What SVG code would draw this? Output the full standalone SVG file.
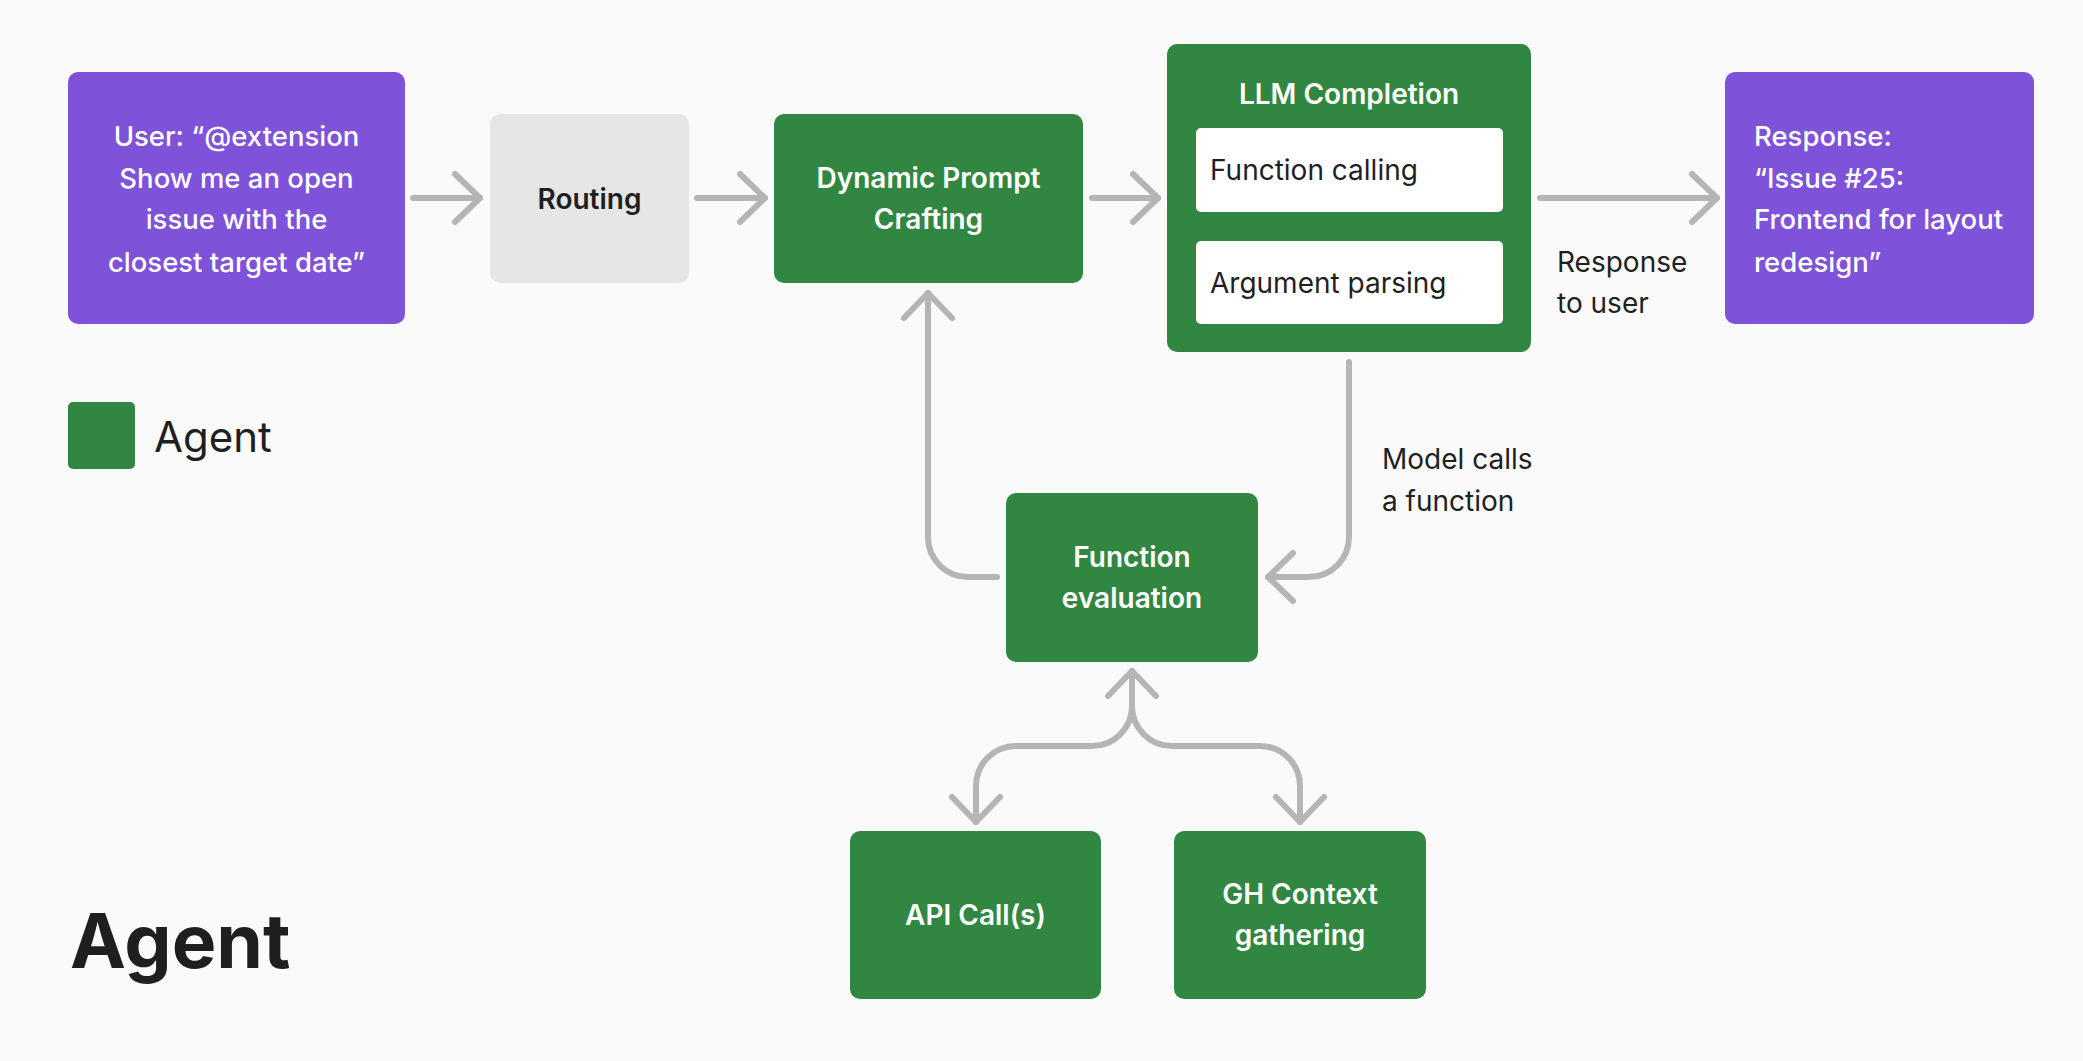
<svg xmlns="http://www.w3.org/2000/svg" width="2083" height="1061" viewBox="0 0 2083 1061">
  <defs>
    <style>
      .bg { fill: #fafafa; }
      .purple { fill: #7e52d9; }
      .green { fill: #318741; }
      .gray { fill: #e6e6e6; }
      .white { fill: #ffffff; }
      text { font-family: Inter, "Liberation Sans", sans-serif; font-size: 28px; }
      .wt { fill: #ffffff; font-weight: 500; font-size: 27.5px; }
      .wb { fill: #ffffff; font-weight: 600; }
      .db { fill: #1f1f1f; font-weight: 600; }
      .dr { fill: #1f1f1f; font-weight: 400; }
      .c { text-anchor: middle; }
      .conn { fill: none; stroke: #b5b5b5; stroke-width: 6; stroke-linecap: round; stroke-linejoin: round; }
    </style>
    <marker id="ah" markerUnits="userSpaceOnUse" markerWidth="64" markerHeight="64" viewBox="-32 -32 64 64" refX="0" refY="0" orient="auto-start-reverse">
      <path d="M-25,-24 L0,0 L-25,24" fill="none" stroke="#b5b5b5" stroke-width="6" stroke-linecap="round" stroke-linejoin="round"/>
    </marker>
  </defs>

  <rect class="bg" x="0" y="0" width="2083" height="1061"/>

  <g id="connectors">
    <path class="conn" d="M413,198 H480" marker-end="url(#ah)"/>
    <path class="conn" d="M697,198 H765" marker-end="url(#ah)"/>
    <path class="conn" d="M1092,198 H1158" marker-end="url(#ah)"/>
    <path class="conn" d="M1540,198 H1717" marker-end="url(#ah)"/>
    <path class="conn" d="M997,577 H968 A40,40 0 0 1 928,537 V293" marker-end="url(#ah)"/>
    <path class="conn" d="M1349,362 V537 A40,40 0 0 1 1309,577 H1268" marker-end="url(#ah)"/>
    <path class="conn" d="M1132,671 V706 A40,40 0 0 1 1092,746 H1016 A40,40 0 0 0 976,786 V822" marker-start="url(#ah)" marker-end="url(#ah)"/>
    <path class="conn" d="M1132,700 V706 A40,40 0 0 0 1172,746 H1260 A40,40 0 0 1 1300,786 V822" marker-end="url(#ah)"/>
  </g>

  <g id="user">
    <rect class="purple" x="68" y="72" width="337" height="252" rx="10"/>
    <text class="wt c" x="236.5" y="146">User: “@extension</text>
    <text class="wt c" x="236.5" y="188">Show me an open</text>
    <text class="wt c" x="236.5" y="229">issue with the</text>
    <text class="wt c" x="236.5" y="272">closest target date”</text>
  </g>

  <g id="routing">
    <rect class="gray" x="490" y="114" width="199" height="169" rx="10"/>
    <text class="db c" x="589.5" y="209">Routing</text>
  </g>

  <g id="dynamic-prompt">
    <rect class="green" x="774" y="114" width="309" height="169" rx="10"/>
    <text class="wb c" x="928.5" y="188">Dynamic Prompt</text>
    <text class="wb c" x="928.5" y="229">Crafting</text>
  </g>

  <g id="llm-completion">
    <rect class="green" x="1167" y="44" width="364" height="308" rx="10"/>
    <text class="wb c" x="1349" y="104">LLM Completion</text>
    <g id="function-calling">
      <rect class="white" x="1196" y="128" width="307" height="84" rx="5"/>
      <text class="dr" x="1210" y="180">Function calling</text>
    </g>
    <g id="argument-parsing">
      <rect class="white" x="1196" y="241" width="307" height="83" rx="5"/>
      <text class="dr" x="1210" y="293">Argument parsing</text>
    </g>
  </g>

  <g id="response-label">
    <text class="dr" x="1557" y="272">Response</text>
    <text class="dr" x="1557" y="313">to user</text>
  </g>

  <g id="response">
    <rect class="purple" x="1725" y="72" width="309" height="252" rx="10"/>
    <text class="wt" x="1754" y="146">Response:</text>
    <text class="wt" x="1754" y="188">“Issue #25:</text>
    <text class="wt" x="1754" y="229">Frontend for layout</text>
    <text class="wt" x="1754" y="272">redesign”</text>
  </g>

  <g id="model-calls-label">
    <text class="dr" x="1382" y="469">Model calls</text>
    <text class="dr" x="1382" y="511">a function</text>
  </g>

  <g id="function-evaluation">
    <rect class="green" x="1006" y="493" width="252" height="169" rx="10"/>
    <text class="wb c" x="1132" y="567">Function</text>
    <text class="wb c" x="1132" y="608">evaluation</text>
  </g>

  <g id="api-calls">
    <rect class="green" x="850" y="831" width="251" height="168" rx="10"/>
    <text class="wb c" x="975.5" y="925">API Call(s)</text>
  </g>

  <g id="gh-context">
    <rect class="green" x="1174" y="831" width="252" height="168" rx="10"/>
    <text class="wb c" x="1300" y="904">GH Context</text>
    <text class="wb c" x="1300" y="945">gathering</text>
  </g>

  <g id="legend">
    <rect class="green" x="68" y="402" width="67" height="67" rx="5"/>
    <text class="dr" x="154" y="452" style="font-size:42px">Agent</text>
  </g>

  <g id="title">
    <text x="70" y="968" style="font-size:75px;font-weight:700;fill:#1f1f1f">Agent</text>
  </g>
</svg>
